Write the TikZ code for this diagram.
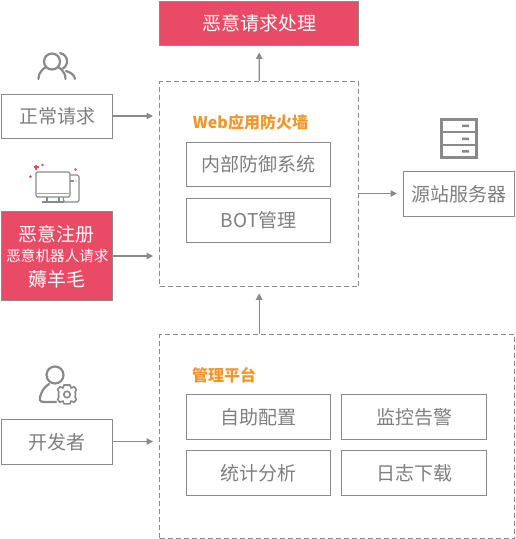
\documentclass[tikz,border=0pt]{standalone}
\usepackage{fontspec}
\setmainfont{Noto Sans CJK SC}
\usetikzlibrary{arrows.meta,calc}
\definecolor{gr}{HTML}{8A8A8A}
\definecolor{txt}{HTML}{7F7F7F}
\definecolor{rd}{HTML}{E94B67}
\definecolor{og}{HTML}{F0962A}
\tikzset{
  x=1pt,y=-1pt,
  bx/.style={draw=gr,line width=1.4pt,fill=white,text=txt,inner sep=0pt,font=\fontsize{19}{21}\selectfont},
  redbx/.style={bx,fill=rd,text=white},
  dashbox/.style={draw=gr,line width=1.3pt,dash pattern=on 5pt off 3pt},
  arr/.style={draw=gr,line width=1.3pt,-{Triangle[length=6.5pt,width=6.5pt]}},
  ttl/.style={text=og,inner sep=0pt,font=\fontsize{16}{18}\selectfont\bfseries},
  ic/.style={draw=gr,line width=2.2pt,line cap=round,line join=round},
  ict/.style={draw=gr,line width=1.2pt,line join=round}
}
\newcommand{\boxat}[7][bx]{\node[#1,minimum width=#4pt-#2pt,minimum height=#5pt-#3pt,anchor=north west] (#6) at (#2,#3) {#7};}
\begin{document}
\begin{tikzpicture}
\useasboundingbox (0,0) rectangle (515,539);
% containers
\node[dashbox,minimum width=199pt,minimum height=205pt,anchor=north west,inner sep=0pt] (waf) at (159,81) {};
\node[dashbox,minimum width=355pt,minimum height=204pt,anchor=north west,inner sep=0pt] (mgmt) at (159,334) {};
% boxes
\boxat[redbx]{159}{1}{358}{45}{bad}{恶意请求处理}
\boxat{1}{94}{112}{138}{normal}{正常请求}
\node[redbx,minimum width=111pt,minimum height=89pt,anchor=north west] (red) at (1,211) {};
\node[text=white,inner sep=0pt,font=\fontsize{19}{21}\selectfont] (r1) at (57,234) {恶意注册};
\node[text=white,inner sep=0pt,font=\fontsize{14.6}{16}\selectfont] (r2) at (57.5,256) {恶意机器人请求};
\node[text=white,inner sep=0pt,font=\fontsize{19}{21}\selectfont] (r3) at (57,279) {薅羊毛};
\boxat{186}{142}{330}{186}{inner}{内部防御系统}
\boxat{186}{198}{330}{242}{bot}{BOT管理}
\boxat{403}{171}{514}{216}{origin}{源站服务器}
\boxat{186}{394}{330}{439}{self}{自助配置}
\boxat{341}{394}{486}{439}{mon}{监控告警}
\boxat{186}{450}{330}{495}{stat}{统计分析}
\boxat{341}{450}{486}{495}{log}{日志下载}
\boxat{1}{419}{112}{464}{dev}{开发者}
% titles
\node[ttl] (t1) at (250.5,122) {Web应用防火墙};
\node[ttl] (t2) at (224,375) {管理平台};
% connectors
\coordinate (nEnd) at (153,116);
\coordinate (rEnd) at (153,256);
\coordinate (dEnd) at (153,441.5);
\coordinate (oEnd) at (397,193.5);
\draw[arr] (waf.north) -- ([yshift=-6pt]bad.south);
\draw[arr] (waf.south |- mgmt.north) -- ([yshift=-6pt]waf.south);
\draw[arr] (normal.east |- nEnd) -- (nEnd);
\draw[arr] (red.east |- rEnd) -- (rEnd);
\draw[arr] (dev.east |- dEnd) -- (dEnd);
\draw[arr] (waf.east |- oEnd) -- (oEnd);
% users icon
\draw[ic] (38.5,79) arc[start angle=180,end angle=360,radius=13.5];
\draw[ic,fill=white] (52,61.5) circle[radius=8];
\draw[ic] (60,53) .. controls (69,55) and (69,66) .. (62,69);
\draw[ic] (66,71) .. controls (71,72.5) and (74.5,75) .. (75,79);
% computer icon
\draw[ict,rounded corners=1.5pt,fill=white] (63.5,175) rectangle (79,202);
\draw[ict,rounded corners=1.5pt,fill=white] (36,172) rectangle (70,197);
\draw[draw=rd!70,line width=1.8pt] (36.5,193.5) -- (69.5,193.5);
\draw[ict] (47,197) -- (47,202) (59,197) -- (59,202) (42,202) -- (64,202);
\draw[ict] (70,181) -- (74,181);
\fill[rd] (76,181) circle[radius=.7];
\draw[rd,line width=1.1pt] (33.5,167) -- (38.5,167) (36,164.5) -- (36,169.5);
\fill[rd] (42.5,165) circle[radius=1.4] (75.5,169.5) circle[radius=1.5] (30.5,176.5) circle[radius=1.5];
% developer icon
\draw[ic] (55,375) circle[radius=8.5];
\draw[ic] (56,402) -- (44,402) .. controls (39,402) and (39,399) .. (41,394) .. controls (42.5,389.5) and (46,386) .. (49,384);
\draw[draw=gr,line width=1.6pt,line join=round,fill=white] (64,385) -- (70,385) -- (71,388) -- (74,386.8) -- (76.5,389.5) -- (75,392.2) -- (75.7,394.5) -- (75,396.8) -- (76.5,399.5) -- (74,402.2) -- (71,401) -- (70,403.8) -- (64,403.8) -- (63,401) -- (60,402.2) -- (57.5,399.5) -- (59,396.8) -- (58.3,394.5) -- (59,392.2) -- (57.5,389.5) -- (60,386.8) -- (63,388) -- cycle;
\draw[draw=gr,line width=1.6pt] (67,394.5) circle[radius=3.2];
% server icon
\draw[draw=gr,line width=3pt,fill=white] (441.5,119.5) rectangle (476,157.5);
\draw[draw=gr,line width=2.6pt] (441.5,132) -- (476,132) (441.5,145) -- (476,145);
\fill[gr] (462,124.5) rectangle (469,127) (462,137.5) rectangle (469,140) (462,150) rectangle (469,152.5);
\end{tikzpicture}
\end{document}
